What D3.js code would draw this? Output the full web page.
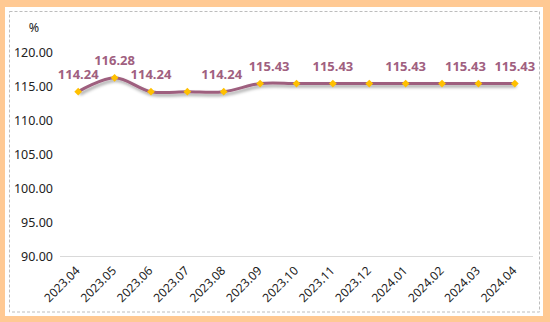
<!DOCTYPE html>
<html><head><meta charset="utf-8">
<script src="https://cdn.jsdelivr.net/npm/d3@7"></script>
<style>html,body{margin:0;padding:0;background:#FFC993;}svg{display:block;}</style>
</head><body>
<svg id="c" width="550" height="322"></svg>
<script>
const categories = ["2023.04","2023.05","2023.06","2023.07","2023.08","2023.09","2023.10","2023.11","2023.12","2024.01","2024.02","2024.03","2024.04"];
const values = [114.24,116.28,114.24,114.24,114.24,115.43,115.43,115.43,115.43,115.43,115.43,115.43,115.43];
const yTicks = [90,95,100,105,110,115,120];
// which points carry a data label, and horizontal nudge (px) used in the original to avoid overlaps
const labelIdx = [0,1,2,4,5,7,9,11,12];
const labelNudge = [0,0,0,-2,9,0,0,-13,0];

const svg = d3.select("#c");
const W = 550, H = 322;
svg.append("rect").attr("x",0).attr("y",0).attr("width",W).attr("height",H).attr("fill","#FFC993");
svg.append("rect").attr("x",5).attr("y",7).attr("width",538).attr("height",309).attr("fill","#fff");
svg.append("rect").attr("x",9.5).attr("y",11.5).attr("width",530).attr("height",300.5)
  .attr("fill","none").attr("stroke","#bdbdbd").attr("stroke-dasharray","3,2").attr("stroke-width",1);

const defs = svg.append("defs");
const f = defs.append("filter").attr("id","sh").attr("x","-10%").attr("y","-50%").attr("width","120%").attr("height","200%");
f.append("feDropShadow").attr("dx",1.5).attr("dy",2.5).attr("stdDeviation",1.5).attr("flood-color","#000").attr("flood-opacity",0.35);

const x = d3.scalePoint().domain(categories).range([60,533]).padding(0.5);
const y = d3.scaleLinear().domain([90,120]).range([256.5,52.5]);

const font = "'Noto Sans', 'Open Sans', sans-serif";

// baseline
svg.append("line").attr("x1",60).attr("x2",533).attr("y1",y(90)).attr("y2",y(90))
  .attr("stroke","#d9d9d9").attr("stroke-width",1);

// y axis
const ya = svg.append("g").attr("transform","translate(53,0)")
  .call(d3.axisLeft(y).tickValues(yTicks).tickFormat(d3.format(".2f")).tickSize(0).tickPadding(0));
ya.select(".domain").remove();
ya.selectAll("text").attr("font-family",font).attr("font-size",12.5).attr("fill","#222");

svg.append("text").attr("x",34).attr("y",32).attr("text-anchor","middle")
  .attr("font-family",font).attr("font-size",12.5).attr("fill","#222").text("%");

// x axis
const xa = svg.append("g").attr("transform",`translate(0,${y(90)})`)
  .call(d3.axisBottom(x).tickSize(0).tickPadding(0));
xa.select(".domain").remove();
xa.selectAll("text").attr("font-family",font).attr("font-size",12).attr("fill","#222")
  .attr("text-anchor","end").attr("dy",0)
  .attr("transform","translate(2,15) rotate(-45)");

// line
const data = categories.map((c,i)=>({c,v:values[i]}));
const line = d3.line().x(d=>x(d.c)).y(d=>y(d.v)).curve(d3.curveCatmullRom.alpha(0.5));
svg.append("path").datum(data).attr("d",line).attr("fill","none")
  .attr("stroke","#9E5F7E").attr("stroke-width",3).attr("filter","url(#sh)");

// markers
svg.selectAll(".m").data(data).enter().append("path")
  .attr("transform",d=>`translate(${x(d.c)},${y(d.v)}) rotate(45)`)
  .attr("d",d3.symbol().type(d3.symbolSquare).size(30))
  .attr("fill","#FFC000");

// labels
svg.selectAll(".lb").data(labelIdx).enter().append("text")
  .attr("x",(i,k)=>x(categories[i])+labelNudge[k])
  .attr("y",i=>y(values[i])-13)
  .attr("text-anchor","middle")
  .attr("font-family",font).attr("font-size",13).attr("font-weight","bold").attr("fill","#A0607F")
  .text(i=>values[i].toFixed(2));
</script>
</body></html>
